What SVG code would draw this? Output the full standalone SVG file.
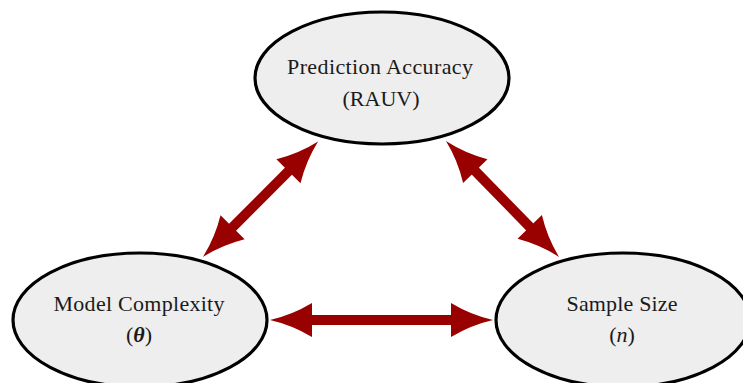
<svg xmlns="http://www.w3.org/2000/svg" width="743" height="383" viewBox="0 0 743 383">
<style>
.node ellipse{fill:#eeeeee;stroke:#000;stroke-width:3.2}
.lbl{font-family:"Liberation Serif","Times New Roman",serif;font-size:22px;fill:#1a1a1a;text-anchor:middle}
.conn line{stroke:#990000;stroke-width:10;fill:none;marker-start:url(#head);marker-end:url(#head)}
</style>
<defs>
<marker id="head" markerUnits="userSpaceOnUse" markerWidth="50" markerHeight="40" viewBox="0 -20 44 40" refX="12" refY="0" orient="auto-start-reverse" overflow="visible">
<path d="M42,0 Q20,-5 0,-17 L0,17 Q20,5 42,0 Z" fill="#990000"/>
</marker>
</defs>
<rect width="743" height="383" fill="#fff"/>
<g id="accuracy" class="node">
<ellipse cx="382" cy="78" rx="127" ry="66"/>
<text class="lbl" x="380" y="74" textLength="186" lengthAdjust="spacing">Prediction Accuracy</text>
<text class="lbl" x="381" y="106">(RAUV)</text>
</g>
<g id="complexity" class="node">
<ellipse cx="140" cy="320" rx="127" ry="67"/>
<text class="lbl" x="139" y="311" textLength="171" lengthAdjust="spacing">Model Complexity</text>
<text class="lbl" x="139" y="342">(<tspan font-weight="bold" font-style="italic">θ</tspan>)</text>
</g>
<g id="sample" class="node">
<ellipse cx="623" cy="320" rx="127" ry="67"/>
<text class="lbl" x="622" y="311" textLength="111" lengthAdjust="spacing">Sample Size</text>
<text class="lbl" x="622" y="342">(<tspan font-style="italic">n</tspan>)</text>
</g>
<g id="connectors" class="conn">
<line x1="224.1" y1="235.7" x2="296.9" y2="162.7"/>
<line x1="466.9" y1="162.5" x2="538.1" y2="235.5"/>
<line x1="300" y1="320" x2="463" y2="320"/>
</g>
</svg>
